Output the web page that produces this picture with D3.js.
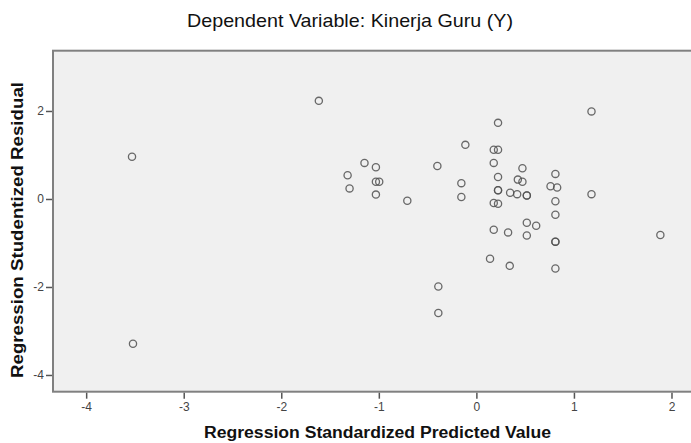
<!DOCTYPE html>
<html>
<head>
<meta charset="utf-8">
<script src="https://cdn.jsdelivr.net/npm/d3@7"></script>
<style>
  body { margin: 0; background: #fff; }
  svg text { font-family: "Liberation Sans", Arial, sans-serif; }
</style>
</head>
<body>
<div id="chart"></div>
<script>
const width = 691, height = 443;

const predicted = [-3.53, -3.52, -1.615, -1.147, -1.03, -1.32, -1.03, -0.996, -1.30, -1.03,
  -0.708, -0.40, -0.113, -0.154, -0.154, -0.39, -0.39, 0.222, 0.178, 0.222,
  1.18, 0.178, 0.472, 0.222, 0.425, 0.472, 0.81, 0.222, 0.222, 0.346,
  0.418, 0.517, 0.517, 0.76, 0.828, 0.81, 0.81, 1.18, 0.178, 0.222,
  0.178, 0.325, 0.517, 0.613, 0.517, 1.886, 0.81, 0.81, 0.14, 0.342, 0.81];
const residual = [0.96, -3.29, 2.23, 0.82, 0.72, 0.54, 0.39, 0.39, 0.24, 0.10,
  -0.04, 0.75, 1.23, 0.36, 0.045, -1.99, -2.59, 1.73, 1.12, 1.12,
  1.99, 0.82, 0.70, 0.50, 0.44, 0.39, 0.57, 0.20, 0.20, 0.14,
  0.11, 0.08, 0.08, 0.29, 0.26, -0.05, -0.36, 0.11, -0.09, -0.11,
  -0.70, -0.76, -0.54, -0.61, -0.83, -0.82, -0.97, -0.97, -1.36, -1.52, -1.58];
const xTicks = [-4, -3, -2, -1, 0, 1, 2];
const yTicks = [-4, -2, 0, 2];

const points = predicted.map((p, i) => ({x: p, y: residual[i]}));

const plotLeft = 53, plotRight = 691, plotTop = 50.7, plotBottom = 391.7;

const svg = d3.select("#chart").append("svg")
  .attr("width", width).attr("height", height);

const x = d3.scaleLinear().domain([-4.34, 2.2]).range([plotLeft, plotRight]);
const y = d3.scaleLinear().domain([-4.38, 3.37]).range([plotBottom, plotTop]);

// plot frame
svg.append("rect")
  .attr("x", plotLeft).attr("y", plotTop)
  .attr("width", plotRight - plotLeft + 10).attr("height", plotBottom - plotTop)
  .style("fill", "#f0f0f0")
  .style("stroke", "#808080")
  .style("stroke-width", 2);

// axes (plain hyphen for negatives, like SPSS)
const xAxis = svg.append("g")
  .attr("transform", `translate(0,${plotBottom + 1})`)
  .call(d3.axisBottom(x).tickValues(xTicks).tickSize(6).tickPadding(4).tickFormat(d => String(d)));
const yAxis = svg.append("g")
  .attr("transform", `translate(${plotLeft - 1},0)`)
  .call(d3.axisLeft(y).tickValues(yTicks).tickSize(6).tickPadding(2).tickFormat(d => String(d)));

[xAxis, yAxis].forEach(a => {
  a.select(".domain").remove();
  a.selectAll("line").style("stroke", "#555").style("stroke-width", 1.5);
  a.selectAll("text").style("font-size", "12px").style("fill", "#444")
    .style("font-family", "'Liberation Sans', Arial, sans-serif");
});

// points
svg.append("g").selectAll("circle")
  .data(points)
  .enter().append("circle")
  .attr("cx", d => x(d.x))
  .attr("cy", d => y(d.y))
  .attr("r", 3.6)
  .style("fill", "none")
  .style("stroke", "#505050")
  .style("stroke-width", 1.3)
  .style("stroke-opacity", 0.85);

// title
svg.append("text")
  .attr("x", 350).attr("y", 27)
  .attr("text-anchor", "middle")
  .attr("textLength", 326).attr("lengthAdjust", "spacingAndGlyphs")
  .style("font-size", "19px")
  .style("fill", "#111")
  .text("Dependent Variable: Kinerja Guru (Y)");

// axis titles
svg.append("text")
  .attr("x", 377.5).attr("y", 438)
  .attr("text-anchor", "middle")
  .attr("textLength", 347).attr("lengthAdjust", "spacingAndGlyphs")
  .style("font-size", "16px")
  .style("font-weight", "bold")
  .style("fill", "#111")
  .text("Regression Standardized Predicted Value");

svg.append("text")
  .attr("transform", "translate(23,230) rotate(-90)")
  .attr("text-anchor", "middle")
  .attr("textLength", 296).attr("lengthAdjust", "spacingAndGlyphs")
  .style("font-size", "17px")
  .style("font-weight", "bold")
  .style("fill", "#111")
  .text("Regression Studentized Residual");
</script>
</body>
</html>
